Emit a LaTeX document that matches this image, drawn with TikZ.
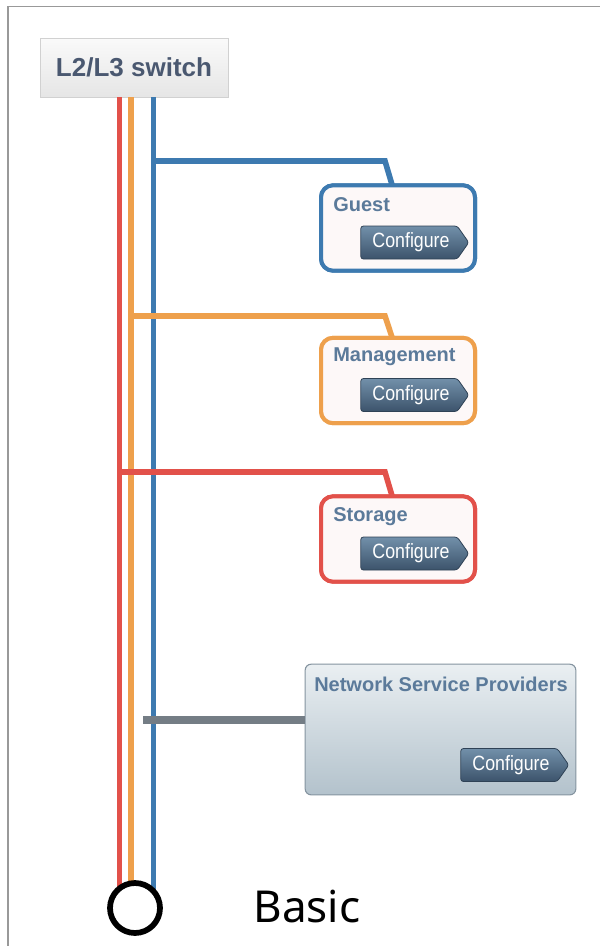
\documentclass[tikz,border=0pt]{standalone}
\usepackage{fontspec}
\setmainfont{Liberation Sans}
\newfontfamily\btnfont[FakeStretch=0.86]{Liberation Sans}
\newfontfamily\basicfont{Noto Sans}
\usetikzlibrary{shapes.symbols,shadows}
\definecolor{lred}{HTML}{E2514A}
\definecolor{lorange}{HTML}{EEA04C}
\definecolor{lblue}{HTML}{3D7AB0}
\definecolor{lgray}{HTML}{747D85}
\definecolor{ttl}{HTML}{5B7A9A}
\definecolor{boxfill}{HTML}{FDF8F8}
\definecolor{btntop}{HTML}{7290AA}
\definecolor{btnbot}{HTML}{3C536B}
\definecolor{btnedge}{HTML}{2F4256}
\definecolor{nsptop}{HTML}{EAEFF2}
\definecolor{nspbot}{HTML}{B3C2CC}
\definecolor{nspedge}{HTML}{8594A0}
\definecolor{swtext}{HTML}{4A5870}
\tikzset{
  lane/.style={line width=4.2pt},
  netbox/.style={draw, line width=3pt, rounded corners=9pt, fill=boxfill,
    minimum width=115.5pt, minimum height=64pt, inner sep=0pt},
  ttltext/.style={font=\bfseries\fontsize{15}{17}\selectfont, text=ttl, inner sep=0pt},
  cfgbtn/.style={signal, signal to=east, signal pointer angle=110, draw=btnedge,
    line width=0.6pt, rounded corners=2pt, top color=btntop, bottom color=btnbot,
    minimum width=81pt, minimum height=24.75pt, inner sep=0pt,
    text=white, font=\btnfont\fontsize{15.5}{17}\selectfont},
}
\begin{document}
\begin{tikzpicture}[x=0.75pt,y=-0.75pt]
\useasboundingbox (0,0) rectangle (600,946);
\fill[white] (0,0) rectangle (600,946);
% frame
\draw[line width=1.2pt, black!40] (8,946) -- (8,6.5) -- (600,6.5);
% switch
\node[draw=black!18, line width=0.6pt, top color=black!2, bottom color=black!10,
      drop shadow={shadow xshift=0.8pt, shadow yshift=-0.8pt, opacity=0.25},
      minimum width=141pt, minimum height=44.25pt, inner sep=0pt,
      text=swtext, font=\bfseries\fontsize{19.5}{22}\selectfont]
      (switch) at (134,67.5) {L2/L3 switch};
% terminal circle position
\coordinate (term) at (135,908);
% boxes
\node[netbox, draw=lblue] (guest) at (398,228) {};
\node[netbox, draw=lorange] (mgmt) at (398,380.5) {};
\node[netbox, draw=lred] (stor) at (398,539) {};
\node[draw=nspedge, line width=0.8pt, rounded corners=4.5pt,
      top color=nsptop, bottom color=nspbot,
      minimum width=203pt, minimum height=98pt, inner sep=0pt] (nsp) at (440.5,729.5) {};
% lanes
\draw[lane, lred] (switch.south -| 119.5,0) -- (119.5,900);
\draw[lane, lorange] (switch.south -| 131,0) -- (131,895);
\draw[lane, lblue] (switch.south -| 153.5,0) -- (153.5,900);
% branches
\coordinate (bB) at (153.5,161);
\coordinate (bO) at (131,316);
\coordinate (bR) at (119.5,472);
\draw[lane, lblue, line join=miter] (bB) -- (385,161) -- ([xshift=-4.5pt,yshift=-1pt]guest.north);
\draw[lane, lorange, line join=miter] (bO) -- (385,316) -- ([xshift=-4.5pt,yshift=-1pt]mgmt.north);
\draw[lane, lred, line join=miter] (bR) -- (385,472) -- ([xshift=-4.5pt,yshift=-1pt]stor.north);
\coordinate (bG) at (143,720);
\draw[line width=6pt, lgray] (bG) -- (bG -| nsp.west);
% terminal circle on top
\node[circle, draw=black, line width=4.3pt, fill=white, minimum size=37.5pt, inner sep=0pt] (circ) at (term) {};
% box borders on top of connectors
\node[netbox, draw=lblue] at (guest) {};
\node[netbox, draw=lorange] at (mgmt) {};
\node[netbox, draw=lred] at (stor) {};
% titles
\node[ttltext, anchor=west] (tg) at (333,205) {Guest};
\node[ttltext, anchor=west] (tm) at (333,357) {Management};
\node[ttltext, anchor=west] (ts) at (333,517) {Storage};
\node[ttltext] (tn) at (441,684) {Network Service Providers};
% buttons
\node[cfgbtn] (cg) at (409,242.5) {\hspace*{3pt}Configure};
\node[cfgbtn] (cm) at (409,395) {\hspace*{3pt}Configure};
\node[cfgbtn] (cs) at (409,553.5) {\hspace*{3pt}Configure};
\node[cfgbtn] (cn) at (509,765) {\hspace*{3pt}Configure};
% label
\node[font=\basicfont\fontsize{33}{36}\selectfont, inner sep=0pt] (basic) at (307,906) {Basic};
\end{tikzpicture}
\end{document}
